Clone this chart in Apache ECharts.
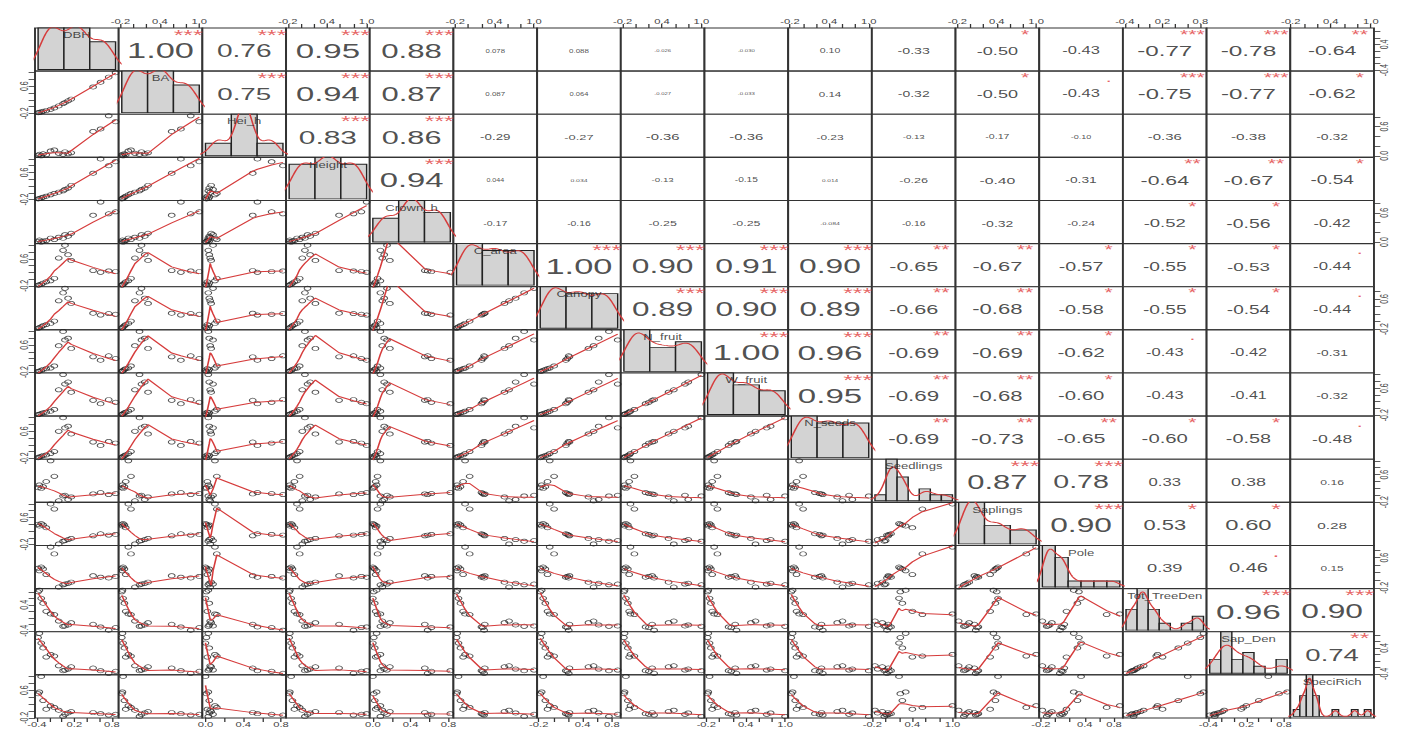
<!DOCTYPE html>
<html><head><meta charset="utf-8">
<script src="https://cdn.jsdelivr.net/npm/echarts@6/dist/echarts.min.js"></script>
<style>
html,body{margin:0;padding:0;background:#fff;overflow:hidden;width:1413px;height:742px;}
#chart{width:883px;height:742px;transform:scaleX(1.6002);transform-origin:0 0;}
</style></head><body><div id="chart"></div>
<script>
// ---------------- data (16 sites A..P, read/estimated from the picture) ----------------
const varNames = ["DBH","BA","Hei_h","Height","Crown_h","C_area","Canopy","N_fruit","W_fruit","N_seeds","Seedlings","Saplings","Pole","Tot_TreeDen","Sap_Den","SpeciRich"];
const DBH       = [0.86,0.75,0.62,0.50,0.15,0.10,0.05,0.02,-0.05,-0.12,-0.18,-0.25,-0.30,-0.33,-0.36,-0.38];
const BA        = [1.00,0.87,0.72,0.58,0.22,0.17,0.12,0.09,0.02,-0.04,-0.08,-0.12,-0.14,-0.16,-0.17,-0.18];
const Hei_h     = [0.70,0.82,0.55,0.50,0.06,0.04,0.08,0.03,0.05,0.12,0.10,0.02,0.04,0.00,0.03,0.01];
const Height    = [0.92,0.80,1.00,0.58,0.22,0.14,0.10,0.06,0.02,-0.02,-0.06,-0.10,-0.13,-0.15,-0.17,-0.18];
const Crown_h   = [0.62,0.58,0.82,0.55,0.18,0.12,0.15,0.08,0.10,0.05,0.08,0.03,0.02,0.00,0.04,0.01];
const C_area    = [0.22,0.24,0.20,0.25,0.55,0.72,1.00,0.85,0.62,0.02,-0.05,-0.08,-0.12,-0.15,-0.17,-0.18];
const Canopy    = [0.19,0.21,0.17,0.22,0.48,0.62,0.88,0.76,0.55,0.01,-0.05,-0.08,-0.11,-0.14,-0.16,-0.18];
const N_fruit   = [0.20,0.28,0.15,0.25,0.50,0.80,0.75,1.00,0.58,-0.02,-0.08,-0.10,-0.12,-0.15,-0.17,-0.18];
const W_fruit   = [0.18,0.26,0.14,0.24,0.48,0.78,0.72,1.00,0.55,-0.03,-0.08,-0.11,-0.13,-0.15,-0.17,-0.18];
const N_seeds   = [0.25,0.30,0.18,0.28,0.52,0.75,0.70,1.00,0.60,0.00,-0.06,-0.10,-0.12,-0.14,-0.16,-0.18];
const Seedlings = [0.05,0.02,0.08,0.04,-0.05,-0.12,0.00,-0.02,-0.16,0.55,1.00,0.40,0.25,0.20,0.30,0.22];
const Saplings  = [0.10,0.08,0.12,0.06,-0.02,-0.05,-0.08,-0.10,-0.18,0.85,1.00,0.30,0.38,0.42,0.35,0.40];
const Pole      = [0.10,0.06,0.08,0.12,-0.05,-0.08,-0.10,-0.12,-0.18,0.70,0.88,0.15,0.30,0.35,0.25,0.32];
const TreeDen   = [-0.30,-0.38,-0.28,-0.20,-0.15,-0.22,-0.25,-0.26,-0.10,0.10,0.12,0.20,0.45,0.60,0.85,0.80];
const SapDen    = [-0.32,-0.38,-0.30,-0.22,-0.18,-0.25,-0.28,-0.30,-0.15,0.15,0.20,0.12,0.40,0.55,0.85,0.72];
const SpeciRich = [-0.10,-0.12,-0.08,-0.05,-0.02,-0.06,-0.10,-0.16,0.02,0.10,0.15,0.05,0.30,1.00,0.55,0.50];

// histogram bin counts on the diagonal
const histCounts = [[6,6,4],[6,6,4],[3,10,3],[5,6,5],[4,7,5],[6,5,5],[6,5,5],[7,4,5],[7,5,4],[6,5,5],
  [1,7,4,0,2,1,1],[9,4,3],[7,5,1,1,1,1],[3,6,3,1,0,1,2],[2,6,2,3,1,0,2],[1,3,6,3,0,0,1,0,0,1,0,1]];

// axis ticks and tick labels
const T_A = [-0.4,-0.2,0,0.2,0.4,0.6,0.8];
const T_B = [-0.2,0,0.2,0.4,0.6,0.8,1.0];
const T_C = [0,0.2,0.4,0.6,0.8];
const T_D = [-0.2,0,0.2,0.4,0.6,0.8];
const tickVals = [T_A,T_B,T_C,T_B,T_C,T_B,T_D,T_B,T_B,T_B,T_B,T_B,T_D,T_A,T_A,T_B];
const xTickLabels = [[-0.4,0.2,0.8],[-0.2,0.4,1.0],[0,0.4,0.8],[-0.2,0.4,1.0],[0,0.4,0.8],[-0.2,0.4,1.0],[-0.2,0.4,0.8],[-0.2,0.4,1.0],
  [-0.2,0.4,1.0],[-0.2,0.4,1.0],[-0.2,0.4,1.0],[-0.2,0.4,1.0],[-0.2,0.4,0.8],[-0.4,0.2,0.8],[-0.4,0.2,0.8],[-0.2,0.4,1.0]];
const yTickLabels = [[-0.4,0.4],[-0.2,0.6],[0,0.6],[-0.2,0.6],[0,0.6],[-0.2,0.6],[-0.2,0.6],[-0.2,0.6],
  [-0.2,0.6],[-0.2,0.6],[-0.2,0.6],[-0.2,0.6],[-0.2,0.6],[-0.4,0.4],[-0.4,0.4],[-0.2,0.6]];

// correlation texts (upper triangle, row by row) and significance stars
const corrText = [
 ["1.00","0.76","0.95","0.88","0.078","0.088","-0.026","-0.030","0.10","-0.33","-0.50","-0.43","-0.77","-0.78","-0.64"],
 ["0.75","0.94","0.87","0.087","0.064","-0.027","-0.033","0.14","-0.32","-0.50","-0.43","-0.75","-0.77","-0.62"],
 ["0.83","0.86","-0.29","-0.27","-0.36","-0.36","-0.23","-0.13","-0.17","-0.10","-0.36","-0.38","-0.32"],
 ["0.94","0.044","0.034","-0.13","-0.15","0.014","-0.26","-0.40","-0.31","-0.64","-0.67","-0.54"],
 ["-0.17","-0.16","-0.25","-0.25","-0.084","-0.16","-0.32","-0.24","-0.52","-0.56","-0.42"],
 ["1.00","0.90","0.91","0.90","-0.65","-0.67","-0.57","-0.55","-0.53","-0.44"],
 ["0.89","0.90","0.89","-0.66","-0.68","-0.58","-0.55","-0.54","-0.44"],
 ["1.00","0.96","-0.69","-0.69","-0.62","-0.43","-0.42","-0.31"],
 ["0.95","-0.69","-0.68","-0.60","-0.43","-0.41","-0.32"],
 ["-0.69","-0.73","-0.65","-0.60","-0.58","-0.48"],
 ["0.87","0.78","0.33","0.38","0.16"],
 ["0.90","0.53","0.60","0.28"],
 ["0.39","0.46","0.15"],
 ["0.96","0.90"],
 ["0.74"]
];
const corrStars = [
 ["***","***","***","***","","","","","","","*","","***","***","**"],
 ["***","***","***","","","","","","","*",".","***","***","*"],
 ["***","***","","","","","","","","","","",""],
 ["***","","","","","","","","","**","**","*"],
 ["","","","","","","","","*","*",""],
 ["***","***","***","***","**","**","*","*","*","."],
 ["***","***","***","**","**","*","*","*","."],
 ["***","***","**","**","*",".","",""],
 ["***","**","**","*","","",""],
 ["**","**","**","*","*","."],
 ["***","***","","",""],
 ["***","*","*",""],
 ["",".",""],
 ["***","***"],
 ["**"]
];

const vars = [DBH,BA,Hei_h,Height,Crown_h,C_area,Canopy,N_fruit,W_fruit,N_seeds,Seedlings,Saplings,Pole,TreeDen,SapDen,SpeciRich];

// ---------------- helpers ----------------
const FONT = '"Liberation Sans", Arial, sans-serif';
const CW = 883, S = 1413 / CW;
const plotL = 35 / S, plotR = 1374 / S, plotT = 28, plotB = 718;
const NV = vars.length;
const cw = (plotR - plotL) / NV, ch = (plotB - plotT) / NV;
const RED = '#d63c3c';

const mctx = document.createElement('canvas').getContext('2d');
function textW(t){ mctx.font = '100px "Liberation Sans"'; return mctx.measureText(t).width / 100; }

function padRange(v){ const mn = Math.min(...v), mx = Math.max(...v); const p = (mx - mn) * 0.04; return [mn - p, mx + p]; }
const ranges = vars.map(padRange);

function lowess(x, y, f = 2/3, iter = 3){
  const n = x.length;
  const idx = x.map((_, k) => k).sort((a, b) => x[a] - x[b]);
  const xs = idx.map(k => x[k]), ys = idx.map(k => y[k]);
  const ns = Math.max(2, Math.min(n, Math.round(f * n)));
  const xr = xs[n-1] - xs[0];
  let rw = new Array(n).fill(1), fit = new Array(n).fill(0);
  for (let it = 0; it <= iter; it++){
    for (let i = 0; i < n; i++){
      const d = xs.map(v => Math.abs(v - xs[i]));
      const h = [...d].sort((a, b) => a - b)[ns - 1];
      const w = new Array(n).fill(0);
      let sw = 0;
      for (let k = 0; k < n; k++){
        let wk;
        if (h <= 0) wk = d[k] === 0 ? 1 : 0;
        else { const r = d[k] / h; wk = r <= 0.001 ? 1 : (r <= 0.999 ? Math.pow(1 - r*r*r, 3) : 0); }
        wk *= rw[k]; w[k] = wk; sw += wk;
      }
      if (sw <= 0){ fit[i] = ys[i]; continue; }
      for (let k = 0; k < n; k++) w[k] /= sw;
      if (h > 0){
        let a = 0; for (let k = 0; k < n; k++) a += w[k] * xs[k];
        let c = 0; for (let k = 0; k < n; k++) c += w[k] * (xs[k] - a) * (xs[k] - a);
        if (Math.sqrt(c) > 0.001 * xr){
          const b = (xs[i] - a) / c;
          for (let k = 0; k < n; k++) w[k] *= (b * (xs[k] - a) + 1);
        }
      }
      let fv = 0; for (let k = 0; k < n; k++) fv += w[k] * ys[k];
      fit[i] = fv;
    }
    if (it === iter) break;
    const res = ys.map((v, k) => v - fit[k]);
    const ar = res.map(Math.abs).sort((a, b) => a - b);
    const m = n % 2 ? ar[(n-1)/2] : (ar[n/2 - 1] + ar[n/2]) / 2;
    const cmad = 6 * m;
    if (cmad < 1e-9) break;
    rw = res.map(r => { const u = Math.abs(r) / cmad; return u < 0.001 ? 1 : (u > 0.999 ? 0 : (1 - u*u) * (1 - u*u)); });
  }
  return xs.map((v, k) => [v, fit[k]]);
}

function quantile(sorted, p){ const h = (sorted.length - 1) * p; const lo = Math.floor(h); return sorted[lo] + (h - lo) * ((sorted[Math.min(lo+1, sorted.length-1)]) - sorted[lo]); }
function kdeFromCounts(counts){
  const sample = [];
  counts.forEach((c, b) => { for (let k = 0; k < c; k++) sample.push(b + 0.5); });
  const N = sample.length;
  const mean = sample.reduce((a, b) => a + b, 0) / N;
  const sd = Math.sqrt(sample.reduce((a, b) => a + (b - mean) * (b - mean), 0) / (N - 1));
  const srt = [...sample].sort((a, b) => a - b);
  const iqr = quantile(srt, 0.75) - quantile(srt, 0.25);
  let lo = Math.min(sd, iqr / 1.34); if (!(lo > 0)) lo = sd || 1;
  const bw = 0.9 * lo * Math.pow(N, -0.2);
  const a = srt[0] - 3 * bw, z = srt[N-1] + 3 * bw, pts = [];
  for (let k = 0; k <= 160; k++){
    const u = a + (z - a) * k / 160;
    let d = 0; for (const s of sample){ const t = (u - s) / bw; d += Math.exp(-0.5 * t * t); }
    d = d / (N * bw * Math.sqrt(2 * Math.PI));
    pts.push([u, d * N]);
  }
  return pts;
}

// ---------------- build option ----------------
const grids = [], xAxes = [], yAxes = [], series = [];
const labelFS = 0.9 * cw / Math.max(...varNames.map(textW));

function valAxis(dim, gi, v, pos){
  const rng = ranges[v];
  const ax = {type: 'value', gridIndex: gi, min: rng[0], max: rng[1], scale: true,
    splitLine: {show: false}, axisLine: {show: false, onZero: false}};
  if (!pos){ ax.show = false; return ax; }
  ax.show = true;
  ax.position = pos;
  ax.axisTick = {show: true, customValues: tickVals[v], length: 4, lineStyle: {color: '#333', width: 0.8}};
  ax.axisLabel = {show: true, customValues: dim === 'x' ? xTickLabels[v] : yTickLabels[v],
    formatter: val => val.toFixed(1), fontSize: 7, color: '#444', margin: 3, fontFamily: FONT,
    showMinLabel: true, showMaxLabel: true};
  if (dim === 'y') ax.axisLabel.rotate = 90;
  return ax;
}

for (let i = 0; i < NV; i++){
  for (let j = 0; j < NV; j++){
    const gi = grids.length;
    grids.push({left: plotL + j * cw, top: plotT + i * ch, width: cw, height: ch, show: true,
      borderColor: '#333', borderWidth: 1.2, backgroundColor: '#fff'});
    if (i === j){
      const counts = histCounts[i], nb = counts.length, M = Math.max(...counts);
      xAxes.push({type: 'value', gridIndex: gi, min: -0.04 * nb, max: 1.04 * nb, show: false, axisLine: {onZero: false}});
      yAxes.push({type: 'value', gridIndex: gi, min: -0.04 * M, max: M, show: false, axisLine: {onZero: false}});
      series.push({type: 'custom', xAxisIndex: gi, yAxisIndex: gi, silent: true, z: 2,
        data: counts.map((c, b) => [b, c]),
        renderItem: (params, api) => {
          const b = api.value(0), c = api.value(1);
          const p0 = api.coord([b, 0]), p1 = api.coord([b + 1, c]);
          return {type: 'rect', shape: {x: p0[0], y: p1[1], width: p1[0] - p0[0], height: p0[1] - p1[1]},
            style: {fill: '#d3d3d3', stroke: '#222', lineWidth: 0.9}};
        }});
      series.push({type: 'line', xAxisIndex: gi, yAxisIndex: gi, silent: true, z: 3, clip: true,
        data: kdeFromCounts(counts), showSymbol: false, symbol: 'none',
        lineStyle: {color: RED, width: 1}});
      series.push({type: 'scatter', xAxisIndex: gi, yAxisIndex: gi, silent: true, z: 4,
        symbolSize: 1, itemStyle: {color: 'rgba(0,0,0,0)'},
        data: [{value: [nb / 2, -0.04 * M + 0.833 * 1.04 * M],
          label: {show: true, position: 'inside', formatter: varNames[i], fontSize: labelFS, color: '#222', fontFamily: FONT}}]});
      continue;
    }
    const r1 = i + 1, c1 = j + 1;
    const xPos = (i === 0 && c1 % 2 === 0) ? 'top' : ((i === NV - 1 && c1 % 2 === 1) ? 'bottom' : null);
    const yPos = (j === 0 && r1 % 2 === 0) ? 'left' : ((j === NV - 1 && r1 % 2 === 1) ? 'right' : null);
    xAxes.push(valAxis('x', gi, j, xPos));
    yAxes.push(valAxis('y', gi, i, yPos));
    if (i > j){
      const xs = vars[j], ys = vars[i];
      series.push({type: 'scatter', xAxisIndex: gi, yAxisIndex: gi, silent: true, z: 2,
        data: xs.map((v, k) => [v, ys[k]]), symbol: 'circle', symbolSize: 4.2,
        itemStyle: {color: 'rgba(255,255,255,0)', borderColor: '#222', borderWidth: 0.7}});
      series.push({type: 'line', xAxisIndex: gi, yAxisIndex: gi, silent: true, z: 3, clip: true,
        data: lowess(xs, ys), showSymbol: false, symbol: 'none',
        lineStyle: {color: RED, width: 1}});
    } else {
      const txt = corrText[i][j - i - 1], st = corrStars[i][j - i - 1];
      const r = Math.abs(parseFloat(txt));
      const base = 0.8 * cw / textW(txt);
      const fsV = base * (r + 0.3) / 1.3, fsS = base * 0.72;
      const xr = ranges[j], yr = ranges[i];
      const px = f => xr[0] + f * (xr[1] - xr[0]), py = f => yr[0] + f * (yr[1] - yr[0]);
      const items = [{value: [px(0.5), py(0.47)],
        label: {show: true, position: 'inside', formatter: txt, fontSize: fsV, lineHeight: fsV * 0.8, color: '#222', fontFamily: FONT}}];
      if (st) items.push({value: [px(0.83), py(0.86)],
        label: {show: true, position: 'inside', formatter: st, fontSize: fsS, lineHeight: fsS * 0.5, color: '#e03a3a', fontFamily: FONT}});
      series.push({type: 'scatter', xAxisIndex: gi, yAxisIndex: gi, silent: true, z: 4,
        symbolSize: 1, itemStyle: {color: 'rgba(0,0,0,0)'}, data: items});
    }
  }
}

const chart = echarts.init(document.getElementById('chart'), null, {renderer: 'svg', width: CW, height: 742});
chart.setOption({animation: false, backgroundColor: '#fff', grid: grids, xAxis: xAxes, yAxis: yAxes, series: series});
</script></body></html>
